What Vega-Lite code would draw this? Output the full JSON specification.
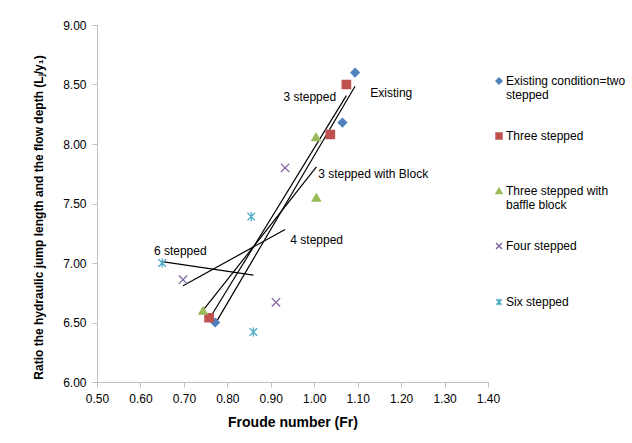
{
  "$schema": "https://vega.github.io/schema/vega-lite/v6.json",
  "width": 391,
  "height": 357,
  "autosize": "none",
  "padding": {"left": 97, "top": 25, "right": 144, "bottom": 61},
  "background": "white",
  "config": {
    "font": "Liberation Sans",
    "view": {"stroke": null},
    "axis": {"grid": false, "labelFlush": false, "labelOverlap": false, "domainColor": "#bfbfbf", "tickColor": "#bfbfbf", "tickSize": 5, "labelFont": "Liberation Sans", "labelFontSize": 12, "labelColor": "#000000", "titleFont": "Liberation Sans", "titleFontWeight": "bold", "titleColor": "#000000"}
  },
  "datasets": {
    "pts": [
      {"series": "Existing condition=two|stepped", "fr": 1.094, "ratio": 8.60},
      {"series": "Existing condition=two|stepped", "fr": 1.065, "ratio": 8.18},
      {"series": "Existing condition=two|stepped", "fr": 0.772, "ratio": 6.50},
      {"series": "Three stepped", "fr": 1.074, "ratio": 8.50},
      {"series": "Three stepped", "fr": 1.037, "ratio": 8.08},
      {"series": "Three stepped", "fr": 0.758, "ratio": 6.54},
      {"series": "Three stepped with|baffle block", "fr": 1.004, "ratio": 8.06},
      {"series": "Three stepped with|baffle block", "fr": 1.005, "ratio": 7.55},
      {"series": "Three stepped with|baffle block", "fr": 0.744, "ratio": 6.60},
      {"series": "Four stepped", "fr": 0.933, "ratio": 7.80},
      {"series": "Four stepped", "fr": 0.698, "ratio": 6.86},
      {"series": "Four stepped", "fr": 0.912, "ratio": 6.67},
      {"series": "Six stepped", "fr": 0.855, "ratio": 7.39},
      {"series": "Six stepped", "fr": 0.650, "ratio": 7.00},
      {"series": "Six stepped", "fr": 0.860, "ratio": 6.42}
    ],
    "labels": [
      {"text": "Existing", "fr": 1.129, "ratio": 8.43},
      {"text": "3 stepped", "fr": 0.929, "ratio": 8.395},
      {"text": "3 stepped with Block", "fr": 1.009, "ratio": 7.75},
      {"text": "4 stepped", "fr": 0.945, "ratio": 7.19},
      {"text": "6 stepped", "fr": 0.631, "ratio": 7.10}
    ]
  },
  "layer": [
    {
      "data": {"name": "pts"},
      "transform": [{"regression": "ratio", "on": "fr", "groupby": ["series"]}],
      "mark": {"type": "line", "color": "#000000", "strokeWidth": 1.2},
      "encoding": {
        "x": {"field": "fr", "type": "quantitative"},
        "y": {"field": "ratio", "type": "quantitative"},
        "detail": {"field": "series"}
      }
    },
    {
      "data": {"name": "pts"},
      "mark": {"type": "point", "size": 70, "strokeWidth": 1.3, "opacity": 1},
      "encoding": {
        "x": {"field": "fr", "type": "quantitative", "scale": {"domain": [0.5, 1.4], "nice": false, "zero": false},
          "axis": {"values": [0.5, 0.6, 0.7, 0.8, 0.9, 1.0, 1.1, 1.2, 1.3, 1.4], "format": ".2f", "title": "Froude number (Fr)", "titleFontSize": 14, "titlePadding": 11, "labelPadding": 6}},
        "y": {"field": "ratio", "type": "quantitative", "scale": {"domain": [6, 9], "nice": false, "zero": false},
          "axis": {"values": [6, 6.5, 7, 7.5, 8, 8.5, 9], "format": ".2f", "title": "Ratio the hydraulic jump length and the flow depth (Lⱼ/y₁)", "titleFontSize": 12, "titleY": 192, "titlePadding": 17, "labelPadding": 6}},
        "fill": {"field": "series", "type": "nominal",
          "scale": {"domain": ["Existing condition=two|stepped", "Three stepped", "Three stepped with|baffle block", "Four stepped", "Six stepped"], "range": ["#4F81BD", "#C0504D", "#9BBB59", "#8064A2", "#4BACC6"]},
          "legend": {"orient": "none", "legendX": 396, "legendY": 50, "title": null, "labelExpr": "indexof(datum.label, '|') >= 0 ? split(datum.label, '|') : [datum.label, ' ']", "labelFontSize": 12, "labelFont": "Liberation Sans", "labelColor": "#000000", "rowPadding": 29, "symbolSize": 35, "labelOffset": 1, "labelLimit": 200}},
        "stroke": {"field": "series", "type": "nominal",
          "scale": {"domain": ["Existing condition=two|stepped", "Three stepped", "Three stepped with|baffle block", "Four stepped", "Six stepped"], "range": ["#4F81BD", "#C0504D", "#9BBB59", "#8064A2", "#4BACC6"]}},
        "shape": {"field": "series", "type": "nominal",
          "scale": {"domain": ["Existing condition=two|stepped", "Three stepped", "Three stepped with|baffle block", "Four stepped", "Six stepped"], "range": ["diamond", "square", "triangle-up", "M-1,-1L1,1M-1,1L1,-1", "M0,-1.1L0,1.1M-0.9,-0.9L0.9,0.9M-0.9,0.9L0.9,-0.9"]}}
      }
    },
    {
      "data": {"name": "labels"},
      "mark": {"type": "text", "align": "left", "baseline": "middle", "fontSize": 12, "font": "Liberation Sans", "color": "#000000"},
      "encoding": {
        "x": {"field": "fr", "type": "quantitative"},
        "y": {"field": "ratio", "type": "quantitative"},
        "text": {"field": "text"}
      }
    }
  ]
}
